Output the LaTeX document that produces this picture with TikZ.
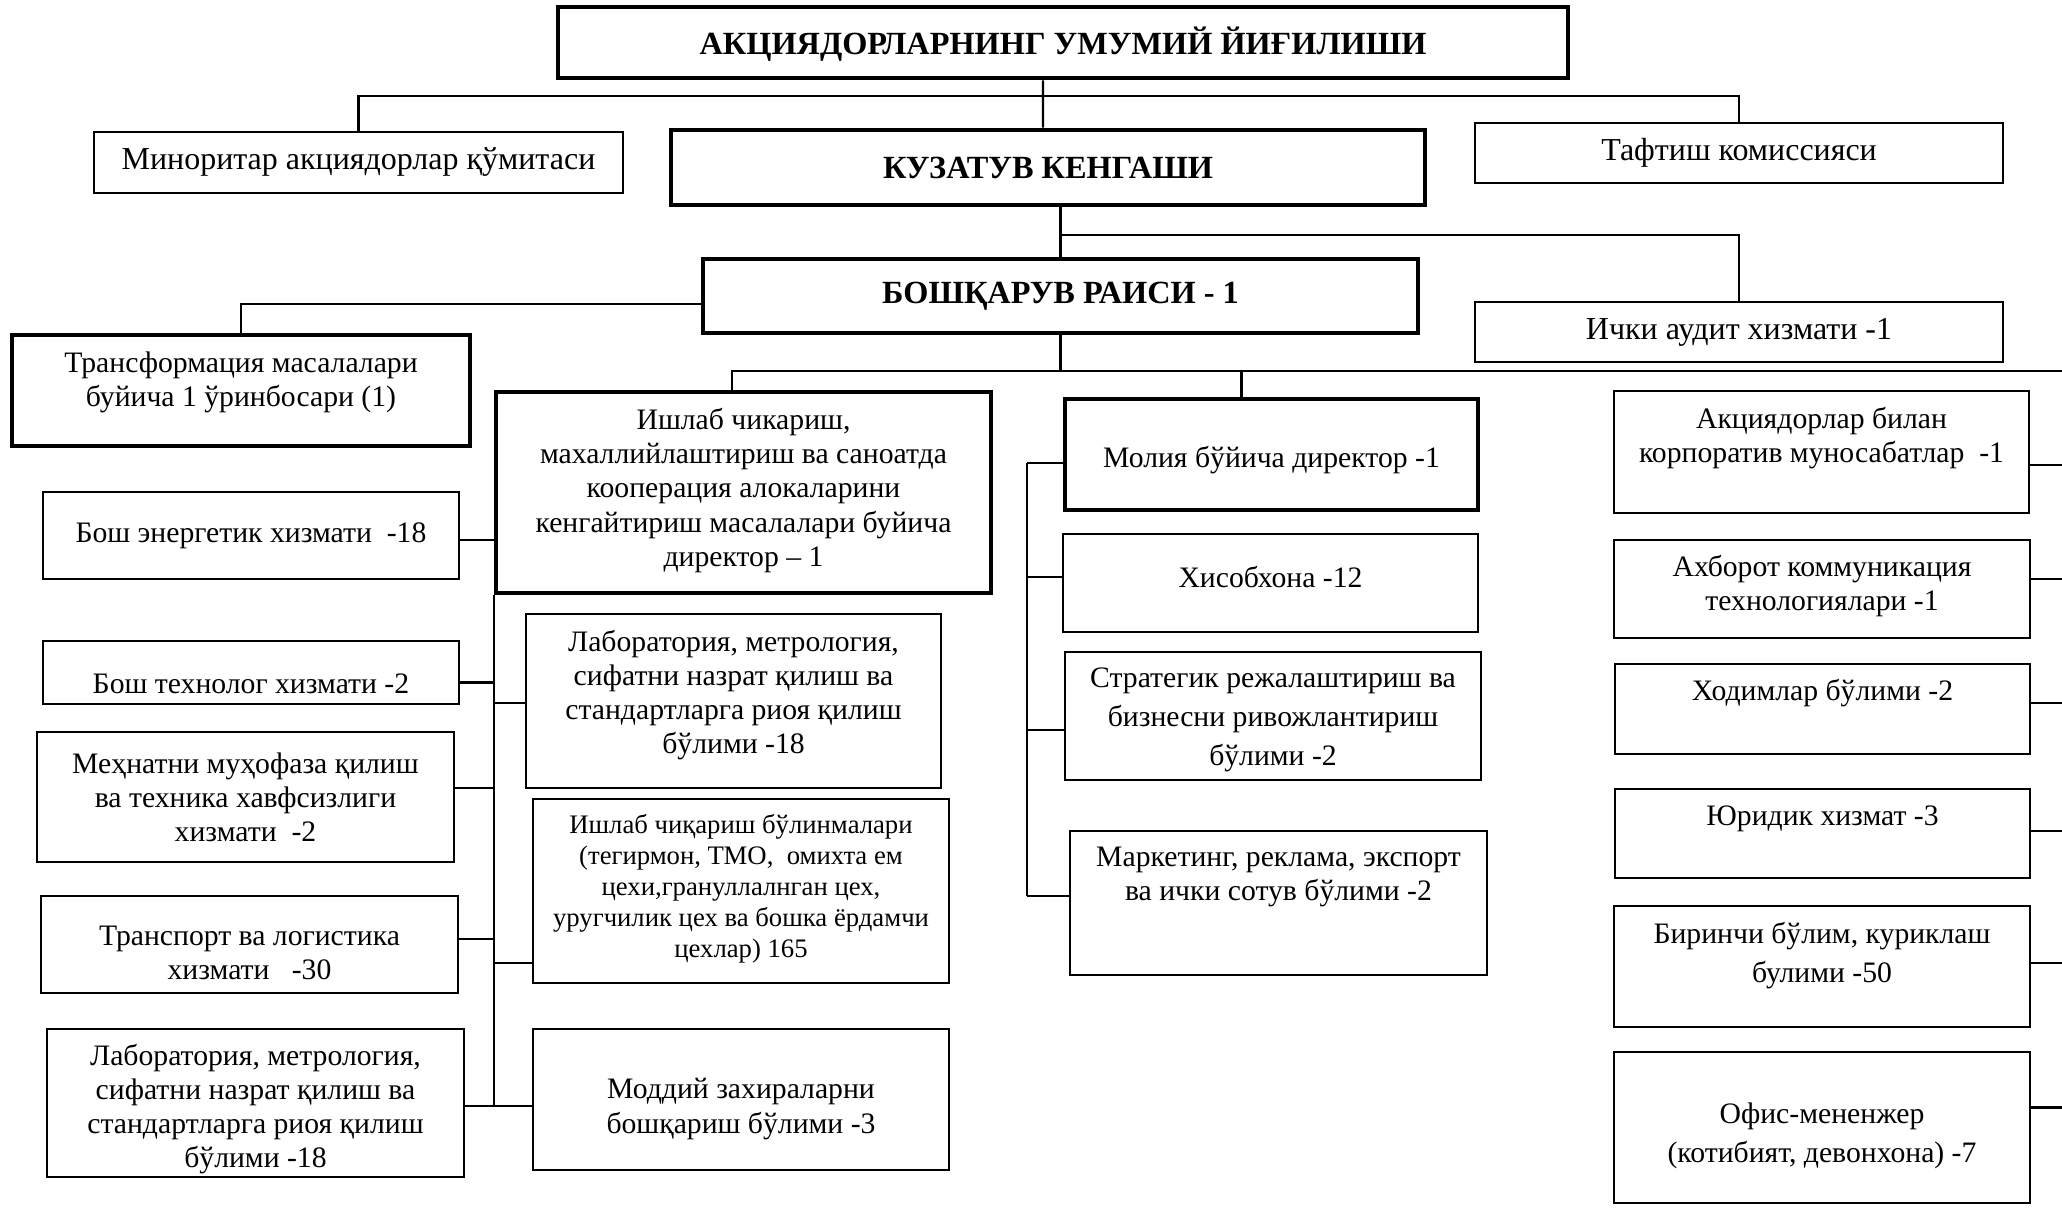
\documentclass[tikz,border=0pt]{standalone}
\usepackage{fontspec}
\setmainfont{Liberation Serif}
\usetikzlibrary{calc}
\tikzset{
  thinbox/.style={draw, line width=0.5pt, inner sep=0pt},
  thickbox/.style={draw, line width=1.3pt, inner sep=0pt},
  boxsize/.style 2 args={minimum width=#1cm, minimum height=#2cm},
  lab/.style={align=center, inner sep=0pt, font=\fontsize{8.45}{9.7}\selectfont},
  biglab/.style={lab, font=\fontsize{9.1}{10.5}\selectfont},
  headlab/.style={lab, font=\bfseries\fontsize{9.2}{11}\selectfont},
  smalllab/.style={lab, font=\fontsize{7.6}{8.8}\selectfont},
  widelab/.style={lab, font=\fontsize{8.45}{11.2}\selectfont},
  link/.style={line width=0.6pt},
}
\begin{document}
\begin{tikzpicture}
\useasboundingbox (0,0) rectangle (20.62,-12.07);

% top of the chart
\node[thickbox, boxsize={10.10}{0.71}] (agm) at (10.63,-0.425) {};
\node[headlab] (agm-t) at ([yshift=-0.2mm]agm) {АКЦИЯДОРЛАРНИНГ УМУМИЙ ЙИҒИЛИШИ};
\node[thinbox, boxsize={5.29}{0.61}] (min) at (3.585,-1.625) {};
\node[biglab] (min-t) at (min) {Миноритар акциядорлар қўмитаси};
\node[thickbox, boxsize={7.54}{0.75}] (kk) at (10.48,-1.675) {};
\node[headlab] (kk-t) at (kk) {КУЗАТУВ КЕНГАШИ};
\node[thinbox, boxsize={5.28}{0.60}] (taft) at (17.39,-1.53) {};
\node[biglab] (taft-t) at (taft) {Тафтиш комиссияси};
\node[thickbox, boxsize={7.15}{0.74}] (br) at (10.605,-2.96) {};
\node[headlab] (br-t) at (br) {БОШҚАРУВ РАИСИ - 1};
\node[thinbox, boxsize={5.28}{0.60}] (audit) at (17.39,-3.32) {};
\node[biglab] (audit-t) at (audit) {Ички аудит хизмати -1};

% deputies and directors
\node[thickbox, boxsize={4.58}{1.11}] (trans) at (2.41,-3.905) {};
\node[lab] (trans-t) at ([yshift=0.8mm]trans) {Трансформация масалалари\\буйича 1 ўринбосари (1)};
\node[thickbox, boxsize={4.95}{2.01}] (ishlab) at (7.435,-4.925) {};
\node[lab] (ishlab-t) at ([yshift=0.2mm]ishlab) {Ишлаб чикариш,\\махаллийлаштириш ва саноатда\\кооперация алокаларини\\кенгайтириш масалалари буйича\\директор – 1};
\node[thickbox, boxsize={4.13}{1.11}] (moliya) at (12.715,-4.545) {};
\node[lab] (moliya-t) at ([yshift=-0.55mm]moliya) {Молия бўйича директор -1};

% production branch
\node[thinbox, boxsize={4.16}{0.87}] (energ) at (2.51,-5.355) {};
\node[lab] (energ-t) at (energ) {Бош энергетик хизмати \ -18};
\node[thinbox, boxsize={4.16}{0.63}] (tech) at (2.51,-6.725) {};
\node[lab] (tech-t) at ([yshift=-1.1mm]tech) {Бош технолог хизмати -2};
\node[thinbox, boxsize={4.17}{1.30}] (mehnat) at (2.455,-7.97) {};
\node[lab] (mehnat-t) at (mehnat) {Меҳнатни муҳофаза қилиш\\ва техника хавфсизлиги\\хизмати \ -2};
\node[thinbox, boxsize={4.17}{0.97}] (transp) at (2.495,-9.445) {};
\node[lab] (transp-t) at ([yshift=-0.85mm]transp) {Транспорт ва логистика\\хизмати \ \ -30};
\node[thinbox, boxsize={4.17}{1.48}] (lab1) at (2.555,-11.03) {};
\node[lab] (lab1-t) at ([yshift=-0.6mm]lab1) {Лаборатория, метрология,\\сифатни назрат қилиш ва\\стандартларга риоя қилиш\\бўлими -18};
\node[thinbox, boxsize={4.15}{1.74}] (lab2) at (7.335,-7.01) {};
\node[lab] (lab2-t) at ([yshift=0.6mm]lab2) {Лаборатория, метрология,\\сифатни назрат қилиш ва\\стандартларга риоя қилиш\\бўлими -18};
\node[thinbox, boxsize={4.16}{1.84}] (units) at (7.41,-8.91) {};
\node[smalllab] (units-t) at ([yshift=0.2mm]units) {Ишлаб чиқариш бўлинмалари\\(тегирмон, ТМО, \ омихта ем\\цехи,грануллалнган цех,\\уругчилик цех ва бошка ёрдамчи\\цехлар) 165};
\node[thinbox, boxsize={4.16}{1.41}] (moddiy) at (7.41,-10.995) {};
\node[lab] (moddiy-t) at ([yshift=-0.95mm]moddiy) {Моддий захираларни\\бошқариш бўлими -3};

% finance branch
\node[thinbox, boxsize={4.15}{0.98}] (hisob) at (12.705,-5.83) {};
\node[lab] (hisob-t) at ([yshift=0.6mm]hisob) {Хисобхона -12};
\node[thinbox, boxsize={4.16}{1.28}] (strat) at (12.73,-7.16) {};
\node[widelab] (strat-t) at ([yshift=-0.4mm]strat) {Стратегик режалаштириш ва\\бизнесни ривожлантириш\\бўлими -2};
\node[thinbox, boxsize={4.17}{1.44}] (market) at (12.785,-9.03) {};
\node[lab] (market-t) at ([yshift=2.6mm]market) {Маркетинг, реклама, экспорт\\ва ички сотув бўлими -2};

% right column
\node[thinbox, boxsize={4.15}{1.22}] (aksiya) at (18.215,-4.52) {};
\node[lab] (aksiya-t) at ([yshift=1.4mm]aksiya) {Акциядорлар билан\\корпоратив муносабатлар \ -1};
\node[thinbox, boxsize={4.16}{0.98}] (axborot) at (18.22,-5.89) {};
\node[lab] (axborot-t) at ([yshift=0.3mm]axborot) {Ахборот коммуникация\\технологиялари -1};
\node[thinbox, boxsize={4.15}{0.90}] (xodim) at (18.225,-7.09) {};
\node[lab] (xodim-t) at ([yshift=1.6mm]xodim) {Ходимлар бўлими -2};
\node[thinbox, boxsize={4.15}{0.89}] (yurid) at (18.225,-8.335) {};
\node[lab] (yurid-t) at ([yshift=1.45mm]yurid) {Юридик хизмат -3};
\node[thinbox, boxsize={4.16}{1.21}] (birinchi) at (18.22,-9.665) {};
\node[widelab] (birinchi-t) at ([yshift=1.1mm]birinchi) {Биринчи бўлим, куриклаш\\булими -50};
\node[thinbox, boxsize={4.16}{1.51}] (ofis) at (18.22,-11.275) {};
\node[widelab] (ofis-t) at ([yshift=-0.85mm]ofis) {Офис-мененжер\\(котибият, девонхона) -7};

% connectors
\coordinate (bus1) at (10.43,-0.96);
\coordinate (bus2) at (10.605,-2.35);
\coordinate (bus3) at (10.605,-3.71);
\coordinate (edge3) at (20.62,-3.71);
\coordinate (msp) at (10.27,0);
\draw[link] ([xshift=-2mm]agm.south) -- ([xshift=-0.5mm]kk.north);
\draw[link] (min.north) |- (bus1) -| (taft.north);
\draw[link] (kk.south -| br.north) -- (br.north);
\draw[link] (bus2) -| (audit.north);
\draw[link] ([yshift=-0.8mm]br.west) -| (trans.north);
\draw[link] (br.south) -- (bus3);
\draw[link] ([xshift=-1.15mm]ishlab.north) |- (edge3);
\draw[link] ([xshift=-3mm]moliya.north) -- ([xshift=-3mm]moliya.north |- edge3);

\draw[link] (ishlab.south west) -- ([yshift=-0.3mm]lab1.east -| ishlab.west);
\foreach \b/\dy in {energ/-0.45mm, tech/-1mm, mehnat/0.9mm, transp/0.55mm, lab1/-0.3mm}
  \draw[link] ([yshift=\dy]\b.east) -- ([yshift=\dy]\b.east -| ishlab.west);
\foreach \b/\dy in {lab2/-0.2mm, units/-7.2mm, moddiy/-0.65mm}
  \draw[link] ([yshift=\dy]\b.west) -- ([yshift=\dy]\b.west -| ishlab.west);

\draw[link] ([yshift=-0.85mm]moliya.west -| msp) -- ([yshift=0.7mm]market.west -| msp);
\foreach \b/\dy in {moliya/-0.85mm, hisob/0.6mm, strat/-1.4mm, market/0.7mm}
  \draw[link] ([yshift=\dy]\b.west) -- ([yshift=\dy]\b.west -| msp);

\foreach \b/\dy in {aksiya/-1.3mm, axborot/1mm, xodim/0.6mm, yurid/0.25mm, birinchi/0.35mm, ofis/2mm}
  \draw[link] ([yshift=\dy]\b.east) -- ([yshift=\dy]\b.east -| edge3);
\end{tikzpicture}
\end{document}
